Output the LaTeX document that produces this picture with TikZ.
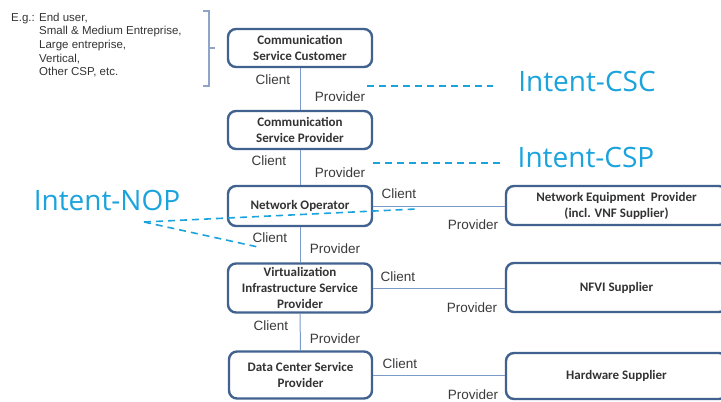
\documentclass[tikz,border=0pt]{standalone}
\usepackage{fontspec}
\setmainfont{Liberation Sans}
\newfontfamily\boxfont{Carlito}
\newfontfamily\intentfont{Open Sans}
\definecolor{boxc}{HTML}{41628F}
\definecolor{linec}{HTML}{7B9CC8}
\definecolor{intc}{HTML}{1AA3DC}
\definecolor{txt}{HTML}{333333}
\definecolor{lab}{HTML}{3A3A3A}
\definecolor{bracec}{HTML}{8EA4C8}
\begin{document}
\begin{tikzpicture}[x=1pt,y=-1pt,
  box/.style={draw=boxc, line width=2.4pt, rounded corners=8pt, fill=white,
    font=\boxfont\bfseries\fontsize{13}{16}\selectfont, text=txt, align=center, inner sep=0pt},
  lbl/.style={font=\fontsize{13.5}{16}\selectfont, text=lab, inner sep=0pt},
  egl/.style={font=\fontsize{11.5}{13.3}\selectfont, text=txt, inner sep=0pt, anchor=west},
  intent/.style={font=\intentfont\fontsize{28}{32}\selectfont, text=intc, inner sep=0pt},
  conn/.style={draw=linec, line width=1pt},
  idash/.style={draw=intc, line width=1.6pt, dash pattern=on 7pt off 5pt},
  bracel/.style={draw=bracec, line width=1.2pt}
]
\useasboundingbox (0,0) rectangle (721,402);
\clip (0,0) rectangle (721,402);

% example text
\node[egl] (eg1) at (11,18.5) {E.g.: End user,};
\node[egl] (eg2) at (39,32) {Small \& Medium Entreprise,};
\node[egl] (eg3) at (39,45.3) {Large entreprise,};
\node[egl] (eg4) at (39,58.6) {Vertical,};
\node[egl] (eg5) at (39,71.9) {Other CSP, etc.};
\draw[bracel] (203,11) -- (209,11) -- (209,86) -- (203,86);
\draw[bracel] (209,48) -- (215,48);

% boxes
\node[box, minimum width=144pt, minimum height=38pt] (csc) at (300,48) {Communication\\Service Customer};
\node[box, minimum width=144pt, minimum height=38pt] (csp) at (300,130) {Communication\\Service Provider};
\node[box, minimum width=144pt, minimum height=40pt] (nop) at (300,206) {Network Operator};
\node[box, minimum width=144pt, minimum height=49pt] (visp) at (300,288) {Virtualization\\Infrastructure Service\\Provider};
\node[box, minimum width=143pt, minimum height=47pt] (dcsp) at (300.5,375) {Data Center Service\\Provider};
\node[box, minimum width=221pt, minimum height=39pt] (nep) at (616.5,205.5) {Network Equipment\ \ Provider\\(incl. VNF Supplier)};
\node[box, minimum width=221pt, minimum height=49pt] (nfvi) at (616.5,287.5) {NFVI Supplier};
\node[box, minimum width=221pt, minimum height=46pt] (hw) at (616.5,376) {Hardware Supplier};

% connectors
\draw[conn] (csc.south) -- (csp.north);
\draw[conn] (csp.south) -- (nop.north);
\draw[conn] (nop.south) -- (visp.north);
\draw[conn] (visp.south) -- (dcsp.north);
\draw[conn] (nop.east) -- (nop.east -| nep.west);
\draw[conn] (visp.east) -- (visp.east -| nfvi.west);
\draw[conn] (dcsp.east) -- (dcsp.east -| hw.west);

% labels
\node[lbl] (c1) at (273,80) {Client};
\node[lbl] (p1) at (340,97) {Provider};
\node[lbl] (c2) at (269,161) {Client};
\node[lbl] (p2) at (340,173) {Provider};
\node[lbl] (c3) at (270,238) {Client};
\node[lbl] (p3) at (335,249) {Provider};
\node[lbl] (c4) at (271,326) {Client};
\node[lbl] (p4) at (335,339) {Provider};
\node[lbl] (hc1) at (399,194) {Client};
\node[lbl] (hp1) at (473,225) {Provider};
\node[lbl] (hc2) at (398,277) {Client};
\node[lbl] (hp2) at (472,308) {Provider};
\node[lbl] (hc3) at (400,364) {Client};
\node[lbl] (hp3) at (473,395) {Provider};

% intents
\node[intent] (icsc) at (587,81) {Intent-CSC};
\node[intent] (icsp) at (586,157) {Intent-CSP};
\node[intent] (inop) at (107,200) {Intent-NOP};

\coordinate (a1) at (367,86);
\coordinate (a2) at (493,86);
\coordinate (b1) at (373,163);
\coordinate (b2) at (500,163);
\coordinate (n0) at (144,222);
\coordinate (n1) at (416,209);
\coordinate (n2) at (258,247);
\draw[idash] (a1) -- (a2);
\draw[idash] (b1) -- (b2);
\draw[idash] (n0) -- (n1);
\draw[idash] (n0) -- (n2);
\end{tikzpicture}
\end{document}
